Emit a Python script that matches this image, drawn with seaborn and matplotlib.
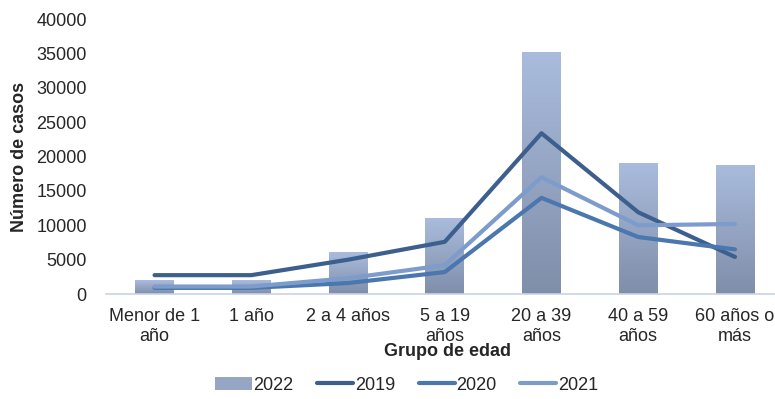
import numpy as np
import pandas as pd
import matplotlib
matplotlib.use("Agg")
import matplotlib.pyplot as plt
import seaborn as sns
from matplotlib.colors import LinearSegmentedColormap
from matplotlib.patches import Patch
from matplotlib.lines import Line2D

categories = ["Menor de 1\naño", "1 año", "2 a 4 años", "5 a 19\naños",
              "20 a 39\naños", "40 a 59\naños", "60 años o\nmás"]
cases_2022 = [2000, 2000, 6100, 11000, 35200, 19000, 18800]
cases_2019 = [2750, 2750, 5000, 7600, 23400, 11900, 5400]
cases_2020 = [900, 900, 1600, 3200, 14000, 8300, 6500]
cases_2021 = [1100, 1100, 2300, 4200, 17000, 10000, 10200]

sns.set_theme(style="white")
plt.rcParams['font.family'] = ['Liberation Sans', 'DejaVu Sans']

fig = plt.figure(figsize=(7.75, 3.99), dpi=100)
ax = fig.add_axes([0.137, 0.263, 0.88, 0.689])

df = pd.DataFrame({"cat": categories, "v": cases_2022})
sns.barplot(data=df, x="cat", y="v", color="#98a8c6", width=0.4, ax=ax,
            saturation=1, zorder=2)

cmap = LinearSegmentedColormap.from_list("g", ["#7f8ea9", "#aabcdd"])
grad = np.linspace(0, 1, 256).reshape(-1, 1)
for p in ax.patches:
    x0, y0 = p.get_x(), p.get_y()
    w, h = p.get_width(), p.get_height()
    im = ax.imshow(grad, cmap=cmap, origin="lower", aspect="auto",
                   extent=[x0, x0 + w, y0, y0 + h], zorder=2.1)
    im.set_clip_path(p)

xs = np.arange(len(categories))
line_specs = [(cases_2019, "#3d5f8e", "2019"),
              (cases_2020, "#4a77ae", "2020"),
              (cases_2021, "#7d9ccc", "2021")]
for vals, col, lab in line_specs:
    sns.lineplot(x=xs, y=vals, color=col, linewidth=3, ax=ax, zorder=3,
                 sort=False)

ax.set_xlim(-0.5, len(categories) - 0.45)
ax.set_ylim(0, 40000)
ax.set_yticks(range(0, 40001, 5000))
ax.set_xticks(xs)
ax.set_xticklabels(categories, fontsize=13, color="#262626", linespacing=1.2)
ax.tick_params(axis="y", labelsize=13, colors="#262626", length=0, pad=14)
ax.tick_params(axis="x", length=0, pad=10)
for s in ["top", "right", "left"]:
    ax.spines[s].set_visible(False)
ax.spines["bottom"].set_color("#c9d3e6")
ax.spines["bottom"].set_linewidth(1.2)

ax.set_ylabel("Número de casos", fontsize=13, fontweight="bold", labelpad=6)
ax.set_xlabel("Grupo de edad", fontsize=13, fontweight="bold", labelpad=-1)

handles = [Patch(facecolor="#95a5c3", edgecolor="none", label="2022")]
for vals, col, lab in line_specs:
    handles.append(Line2D([0], [0], color=col, linewidth=3, label=lab))
fig.legend(handles=handles, loc="center", bbox_to_anchor=(0.525, 0.035),
           ncol=4, frameon=False, fontsize=13, handlelength=2.0,
           handletextpad=0.1, columnspacing=1.3)

fig.savefig("out.png", dpi=100)
